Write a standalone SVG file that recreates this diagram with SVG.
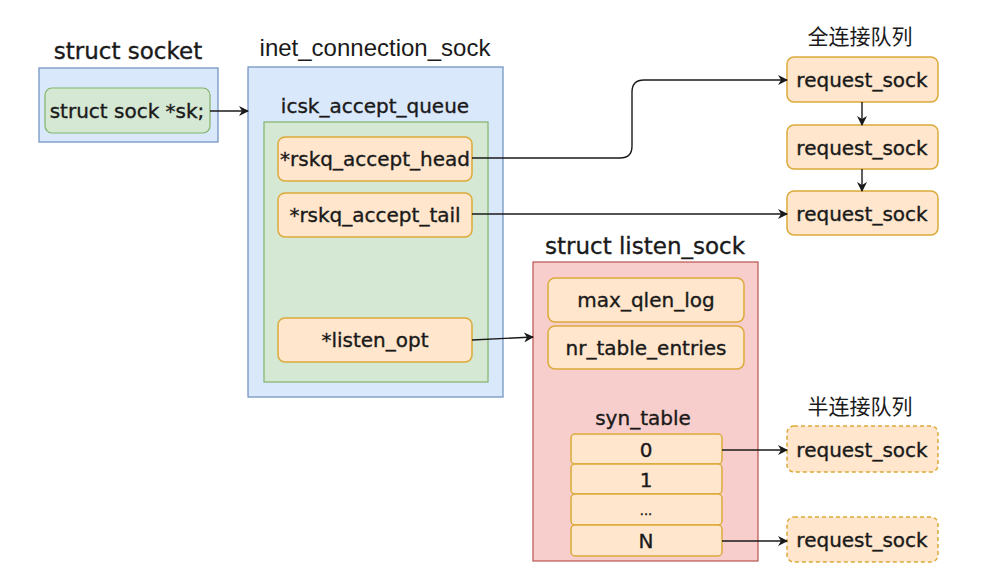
<svg xmlns="http://www.w3.org/2000/svg" width="981" height="585" viewBox="0 0 981 585">
  <style>
    .t { font-family: "DejaVu Sans", "Noto Sans CJK SC", sans-serif; fill: #1a1a1a; stroke: #1a1a1a; stroke-width: 0.35; text-anchor: middle; dominant-baseline: central; }
    .f { font-size: 20px; }
    .h { font-size: 23px; }
    .a { font-family: "Liberation Sans", Arial, sans-serif; font-size: 24px; fill: #1a1a1a; text-anchor: middle; dominant-baseline: central; }
    .cjk { font-family: "Noto Sans CJK SC", sans-serif; font-size: 21px; fill: #1a1a1a; text-anchor: middle; dominant-baseline: central; }
    .blue { fill: #dae8fc; stroke: #6c8ebf; stroke-width: 1.2; }
    .green { fill: #d5e8d4; stroke: #82b366; stroke-width: 1.2; }
    .pink { fill: #f8cecc; stroke: #b85450; stroke-width: 1.2; }
    .org { fill: #ffe6cc; stroke: #dcaa3a; stroke-width: 1.5; }
    .dash { stroke-dasharray: 4 3; }
    .ln { fill: none; stroke: #1a1a1a; stroke-width: 1.4; marker-end: url(#arr); }
  </style>
  <defs>
    <marker id="arr" viewBox="0 0 10 10" refX="9" refY="5" markerWidth="10" markerHeight="10" markerUnits="userSpaceOnUse" orient="auto">
      <path d="M0,0 L10,5 L0,10 L3,5 Z" fill="#1a1a1a"/>
    </marker>
  </defs>
  <rect width="981" height="585" fill="#ffffff"/>

  <!-- struct socket -->
  <g id="socket">
    <text class="t h" x="128" y="51">struct socket</text>
    <rect class="blue" x="39" y="68" width="179" height="74"/>
    <rect class="green" x="45" y="88" width="165" height="45" rx="7"/>
    <text class="t f" x="127" y="111">struct sock *sk;</text>
  </g>

  <!-- inet_connection_sock -->
  <g id="inet_connection_sock">
    <text class="a" x="375" y="47">inet_connection_sock</text>
    <rect class="blue" x="248" y="67" width="255" height="330"/>
    <text class="t f" x="375" y="106">icsk_accept_queue</text>
    <rect class="green" x="264" y="122" width="224" height="260"/>
  </g>
  <g id="accept_head">
    <rect class="org" x="278" y="137" width="194" height="44" rx="7"/>
    <text class="t f" x="375" y="159">*rskq_accept_head</text>
  </g>
  <g id="accept_tail">
    <rect class="org" x="278" y="193" width="194" height="44" rx="7"/>
    <text class="t f" x="375" y="215">*rskq_accept_tail</text>
  </g>
  <g id="listen_opt">
    <rect class="org" x="278" y="318" width="194" height="44" rx="7"/>
    <text class="t f" x="375" y="340">*listen_opt</text>
  </g>

  <!-- struct listen_sock -->
  <g id="listen_sock">
    <text class="t h" x="645" y="246">struct listen_sock</text>
    <rect class="pink" x="533" y="262" width="225" height="299"/>
    <text class="t f" x="643" y="418">syn_table</text>
  </g>
  <g id="max_qlen_log">
    <rect class="org" x="548" y="278" width="196" height="44" rx="7"/>
    <text class="t f" x="646" y="300">max_qlen_log</text>
  </g>
  <g id="nr_table_entries">
    <rect class="org" x="548" y="326" width="196" height="43" rx="7"/>
    <text class="t f" x="646" y="348">nr_table_entries</text>
  </g>
  <g id="syn_0">
    <rect class="org" x="571" y="434" width="151" height="30" rx="4"/>
    <text class="t f" x="646" y="450">0</text>
  </g>
  <g id="syn_1">
    <rect class="org" x="571" y="464" width="151" height="30" rx="4"/>
    <text class="t f" x="646" y="480">1</text>
  </g>
  <g id="syn_dots">
    <rect class="org" x="571" y="494" width="151" height="31" rx="4"/>
    <text class="t" x="646" y="510" font-size="13">...</text>
  </g>
  <g id="syn_n">
    <rect class="org" x="571" y="525" width="151" height="31" rx="4"/>
    <text class="t f" x="646" y="541">N</text>
  </g>

  <!-- accept queue -->
  <g id="accept_queue_title">
    <text class="cjk" x="860" y="35">全连接队列</text>
  </g>
  <g id="req_1">
    <rect class="org" x="787" y="57" width="151" height="45" rx="7"/>
    <text class="t f" x="862" y="80">request_sock</text>
  </g>
  <g id="req_2">
    <rect class="org" x="787" y="125" width="151" height="44" rx="7"/>
    <text class="t f" x="862" y="148">request_sock</text>
  </g>
  <g id="req_3">
    <rect class="org" x="787" y="191" width="151" height="44" rx="7"/>
    <text class="t f" x="862" y="214">request_sock</text>
  </g>

  <!-- syn queue -->
  <g id="syn_queue_title">
    <text class="cjk" x="860" y="405">半连接队列</text>
  </g>
  <g id="syn_req_1">
    <rect class="org dash" x="787" y="426" width="151" height="46" rx="7"/>
    <text class="t f" x="862" y="450">request_sock</text>
  </g>
  <g id="syn_req_2">
    <rect class="org dash" x="787" y="517" width="151" height="45" rx="7"/>
    <text class="t f" x="862" y="540">request_sock</text>
  </g>

  <!-- connectors -->
  <g id="connectors">
    <path class="ln" d="M210,111 L248,111"/>
    <path class="ln" d="M472,158 L620,158 Q632,158 632,146 L632,92 Q632,80 644,80 L787,80"/>
    <path class="ln" d="M472,214 L787,214"/>
    <path class="ln" d="M472,340 L533,337"/>
    <path class="ln" d="M862,102 L862,125"/>
    <path class="ln" d="M862,169 L862,191"/>
    <path class="ln" d="M722,450 L787,450"/>
    <path class="ln" d="M722,541 L787,541"/>
  </g>
</svg>
